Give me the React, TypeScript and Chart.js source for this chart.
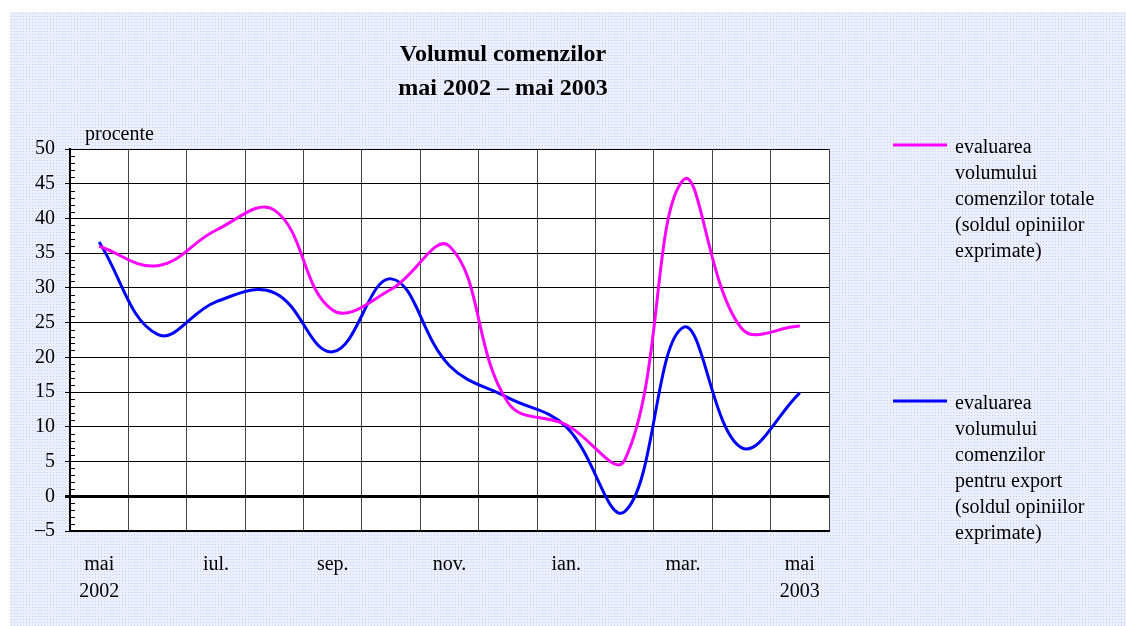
import React, { useEffect, useRef } from "react";
import { Chart, registerables } from "chart.js";

Chart.register(...registerables);

const months = ["mai", "iun.", "iul.", "aug.", "sep.", "oct.", "nov.", "dec.", "ian.", "feb.", "mar.", "apr.", "mai"];
const tickLabels: (string | string[])[] = [["mai", "2002"], "", "iul.", "", "sep.", "", "nov.", "", "ian.", "", "mar.", "", ["mai", "2003"]];
const totalOrders = [36.0, 33.2, 38.3, 41.2, 26.8, 29.8, 36.0, 13.5, 10.3, 5.2, 45.5, 24.2, 24.5];
const exportOrders = [36.6, 23.3, 28.0, 29.3, 20.8, 31.3, 18.8, 14.2, 10.0, -2.2, 24.3, 7.0, 14.9];
const titleLines = ["Volumul comenzilor", "mai 2002 – mai 2003"];
const unitLabel = "procente";
const legendTotal = ["evaluarea", "volumului", "comenzilor totale", "(soldul opiniilor", "exprimate)"];
const legendExport = ["evaluarea", "volumului", "comenzilor", "pentru export", "(soldul opiniilor", "exprimate)"];

const FONT = "'Liberation Serif', 'Times New Roman', serif";

const decorPlugin = {
  id: "decor",
  afterDraw(chart: any) {
    const ctx = chart.ctx;
    const y = chart.scales.y;
    const area = chart.chartArea;
    ctx.save();
    // minor ticks
    ctx.strokeStyle = "#000";
    ctx.lineWidth = 1;
    for (let v = -5; v <= 50; v++) {
      if (v % 5 === 0) continue;
      const py = Math.round(y.getPixelForValue(v)) + 0.5;
      ctx.beginPath();
      ctx.moveTo(area.left, py);
      ctx.lineTo(area.left + 5, py);
      ctx.stroke();
    }
    // title
    ctx.fillStyle = "#000";
    ctx.textAlign = "center";
    ctx.textBaseline = "alphabetic";
    ctx.font = `bold 24px ${FONT}`;
    ctx.fillText(titleLines[0], 503, 61);
    ctx.fillText(titleLines[1], 503, 95);
    // unit
    ctx.textAlign = "left";
    ctx.font = `20px ${FONT}`;
    ctx.fillText(unitLabel, 85, 140);
    // legend
    const ds = chart.data.datasets;
    const drawEntry = (color: string, lineY: number, lines: string[], base: number) => {
      ctx.strokeStyle = color;
      ctx.lineWidth = 3;
      ctx.beginPath();
      ctx.moveTo(893, lineY);
      ctx.lineTo(947, lineY);
      ctx.stroke();
      ctx.fillStyle = "#000";
      lines.forEach((t, i) => ctx.fillText(t, 955, base + i * 26));
    };
    drawEntry(ds[0].borderColor, 145, legendTotal, 153);
    drawEntry(ds[1].borderColor, 401, legendExport, 409);
    ctx.restore();
  },
};

export default function App() {
  const ref = useRef<HTMLCanvasElement | null>(null);
  useEffect(() => {
    if (!ref.current) return;
    const chart = new Chart(ref.current, {
      type: "line",
      data: {
        labels: months,
        datasets: [
          {
            label: legendTotal.join(" "),
            data: totalOrders,
            borderColor: "#ff00ff",
            borderWidth: 3,
            pointRadius: 0,
            tension: 0.4,
            fill: false,
          },
          {
            label: legendExport.join(" "),
            data: exportOrders,
            borderColor: "#0000ff",
            borderWidth: 3,
            pointRadius: 0,
            tension: 0.4,
            fill: false,
          },
        ],
      },
      options: {
        animation: false,
        responsive: false,
        maintainAspectRatio: false,
        layout: { padding: { top: 149, right: 297, bottom: 0, left: 0 } },
        plugins: { legend: { display: false }, title: { display: false }, tooltip: { enabled: false } },
        scales: {
          x: {
            type: "category",
            offset: true,
            afterFit: (s: any) => {
              s.height = 95;
            },
            grid: { offset: true, color: "#444", lineWidth: 1, drawTicks: false, tickLength: 0 },
            border: { color: "#000", width: 2 },
            ticks: {
              autoSkip: false,
              maxRotation: 0,
              minRotation: 0,
              padding: 20,
              color: "#000",
              font: { family: FONT, size: 20, lineHeight: 1.35 },
              callback: (_v: any, i: number) => tickLabels[i],
            },
          },
          y: {
            min: -5,
            max: 50,
            afterFit: (s: any) => {
              s.width = 70;
            },
            grid: {
              color: "#000",
              lineWidth: (c: any) => (c.tick && c.tick.value === 0 ? 3 : 1),
              drawTicks: true,
              tickLength: 5,
            },
            border: { color: "#000", width: 2 },
            ticks: {
              stepSize: 5,
              padding: 10,
              color: "#000",
              font: { family: FONT, size: 20 },
              callback: (v: any) => (Number(v) < 0 ? "–" + Math.abs(Number(v)) : String(v)),
            },
          },
        },
      },
      plugins: [decorPlugin],
    });
    return () => chart.destroy();
  }, []);

  return (
    <div style={{ position: "fixed", left: 0, top: 0, width: 1126, height: 626, background: "#fff", overflow: "hidden" }}>
      <div
        style={{
          position: "absolute",
          left: 10,
          top: 12,
          right: 0,
          bottom: 0,
          backgroundColor: "#eceffe",
          backgroundImage: "radial-gradient(#c4ccfa 0.9px, transparent 1px)",
          backgroundSize: "3px 3px",
        }}
      />
      <div style={{ position: "absolute", left: 70, top: 149, width: 759, height: 382, background: "#fff" }} />
      <canvas ref={ref} width={1126} height={626} style={{ position: "absolute", left: 0, top: 0, width: 1126, height: 626 }} />
    </div>
  );
}
